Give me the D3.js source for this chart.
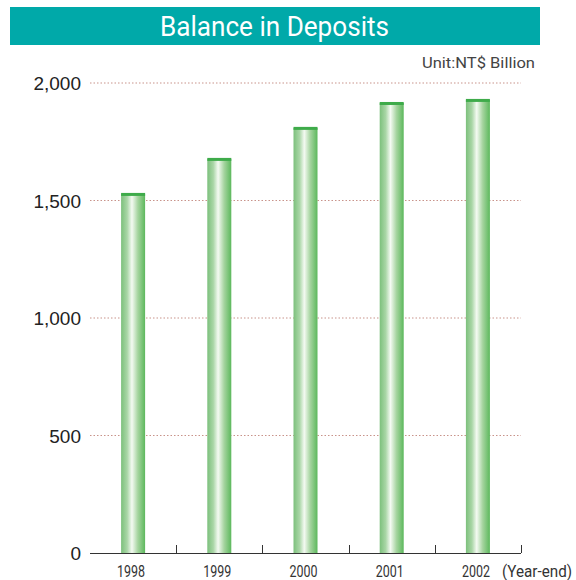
<!DOCTYPE html>
<html><head><meta charset="utf-8">
<script src="https://cdn.jsdelivr.net/npm/d3@7"></script>
<style>body{margin:0;background:#fff}svg{display:block}</style>
</head><body>
<script>
const years = ["1998","1999","2000","2001","2002"];
const deposits = [1528, 1677, 1809, 1915, 1928];
const yTicks = [0, 500, 1000, 1500, 2000];

const W = 576, H = 580;
const svg = d3.select("body").append("svg").attr("width", W).attr("height", H);

const x = d3.scaleBand().domain(years).range([90, 521]).paddingInner(0).paddingOuter(0);
const y = d3.scaleLinear().domain([0, 2000]).range([553, 83]);

// title band
svg.append("rect").attr("x", 10).attr("y", 7).attr("width", 530).attr("height", 38).attr("fill", "#00a9a9");
svg.append("text").attr("x", 274.5).attr("y", 36).attr("text-anchor", "middle")
  .attr("fill", "#fff").attr("font-family", "Roboto, sans-serif").attr("font-size", 28)
  .attr("textLength", 229).attr("lengthAdjust", "spacingAndGlyphs")
  .text("Balance in Deposits");

svg.append("text").attr("x", 535).attr("y", 68).attr("text-anchor", "end")
  .attr("fill", "#444").attr("font-family", "Roboto, sans-serif").attr("font-size", 15)
  .attr("textLength", 113).attr("lengthAdjust", "spacingAndGlyphs")
  .text("Unit:NT$ Billion");

// gradient
const defs = svg.append("defs");
const g = defs.append("linearGradient").attr("id", "barGrad").attr("x1", "0").attr("x2", "1").attr("y1", "0").attr("y2", "0");
[[0, "#7cc07c"], [0.25, "#a9d6a6"], [0.45, "#f4faf2"], [0.7, "#a5d49f"], [1, "#5cb85c"]].forEach(([o, c]) =>
  g.append("stop").attr("offset", o).attr("stop-color", c));

// gridlines
svg.append("g").selectAll("line").data(yTicks.filter(d => d > 0)).join("line")
  .attr("x1", 90).attr("x2", 521).attr("y1", d => y(d)).attr("y2", d => y(d))
  .attr("stroke", "#c8938a").attr("stroke-width", 1).attr("stroke-dasharray", "1.5,2");

// y labels
svg.append("g").selectAll("text").data(yTicks).join("text")
  .attr("x", 81).attr("y", d => y(d) + 7).attr("text-anchor", "end")
  .attr("fill", "#222").attr("font-family", "Liberation Sans, Arial, sans-serif").attr("font-size", 19)
  .text(d => d3.format(",")(d));

// bars
const bw = 24;
const bars = svg.append("g");
bars.selectAll("rect.bar").data(deposits).join("rect").attr("class", "bar")
  .attr("x", (d, i) => x(years[i]) + x.bandwidth() / 2 - bw / 2)
  .attr("y", d => y(d))
  .attr("width", bw).attr("height", d => y(0) - y(d))
  .attr("fill", "url(#barGrad)");
bars.selectAll("rect.cap").data(deposits).join("rect").attr("class", "cap")
  .attr("x", (d, i) => x(years[i]) + x.bandwidth() / 2 - bw / 2)
  .attr("y", d => y(d) - 1)
  .attr("width", bw).attr("height", 3)
  .attr("fill", "#3eab4a");

// x axis
svg.append("line").attr("x1", 90).attr("x2", 521).attr("y1", 553.5).attr("y2", 553.5)
  .attr("stroke", "#333").attr("stroke-width", 1);
svg.append("g").selectAll("line").data(years.slice(1).concat(["end"])).join("line")
  .attr("x1", (d, i) => Math.round(x.range()[0] + x.bandwidth() * (i + 1)) + 0.5)
  .attr("x2", (d, i) => Math.round(x.range()[0] + x.bandwidth() * (i + 1)) + 0.5)
  .attr("y1", 545).attr("y2", 553)
  .attr("stroke", "#333").attr("stroke-width", 1);

svg.append("g").selectAll("text").data(years).join("text")
  .attr("x", d => x(d) + x.bandwidth() / 2 - 2).attr("y", 577).attr("text-anchor", "middle")
  .attr("fill", "#333").attr("font-family", "Roboto, sans-serif").attr("font-size", 16)
  .attr("textLength", 28).attr("lengthAdjust", "spacingAndGlyphs")
  .text(d => d);
svg.append("text").attr("x", 502).attr("y", 577)
  .attr("fill", "#333").attr("font-family", "Roboto, sans-serif").attr("font-size", 16)
  .attr("textLength", 70).attr("lengthAdjust", "spacingAndGlyphs")
  .text("(Year-end)");
</script>
</body></html>
